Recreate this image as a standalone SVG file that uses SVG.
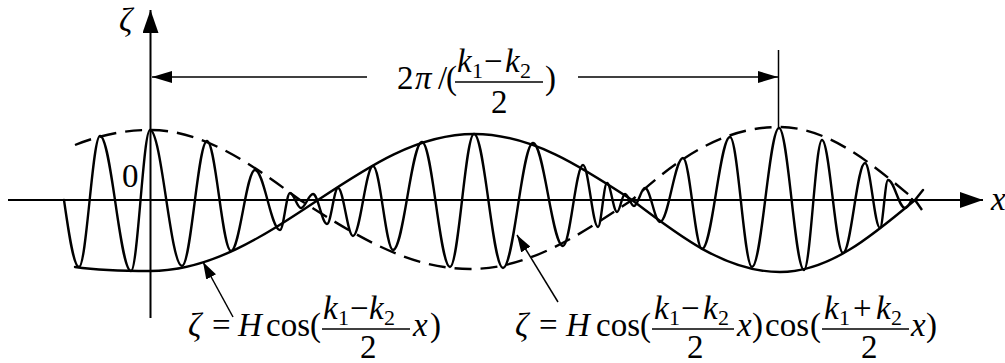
<svg xmlns="http://www.w3.org/2000/svg" width="1005" height="363" viewBox="0 0 1005 363">
<style>
.t{font-family:"Liberation Serif","Times New Roman",serif;font-size:33px;fill:#000}
.i{font-style:italic}
.s{font-size:22px}
.ax{stroke:#000;stroke-width:2;fill:none}
.thin{stroke:#000;stroke-width:1.5;fill:none}
.bar{stroke:#000;stroke-width:1.3}
.curve{stroke:#000;stroke-width:2.4;fill:none;stroke-linejoin:round;stroke-linecap:round}
.dash{stroke-dasharray:17 9;stroke-linecap:butt}
</style>
<defs>
<marker id="headAxis" viewBox="0 0 23 16" refX="23" refY="8" markerWidth="23" markerHeight="16" markerUnits="userSpaceOnUse" orient="auto"><path d="M0,0 L23,8 L0,16 z" fill="#000"/></marker>
<marker id="headDim" viewBox="0 0 20 12" refX="20" refY="6" markerWidth="20" markerHeight="12" markerUnits="userSpaceOnUse" orient="auto"><path d="M0,0 L20,6 L0,12 z" fill="#000"/></marker>
<marker id="headPtr" viewBox="0 0 17 11" refX="17" refY="5.5" markerWidth="17" markerHeight="11" markerUnits="userSpaceOnUse" orient="auto"><path d="M0,0 L17,5.5 L0,11 z" fill="#000"/></marker>
</defs>
<rect width="1005" height="363" fill="#fff"/>

<g id="axes">
<line class="ax" x1="8" y1="200" x2="983" y2="200" marker-end="url(#headAxis)"/>
<line class="ax" x1="150.5" y1="318" x2="150.5" y2="10" stroke-width="1.8" marker-end="url(#headAxis)"/>
<text class="t i" x="119" y="31" font-size="31">ζ</text>
<text class="t" x="122" y="187" font-size="27">0</text>
<text class="t i" x="991" y="210" font-size="29">x</text>
</g>

<g id="envelope-dashed">
<path class="curve dash" d="M75,145 C100,135 125,130 150,130 C204.3,130 251.1,164.1 300,200 C355.4,235.3 408.5,269 470,269 C528.6,269 579.2,235.3 632,200 C676,160 722,127 779,127 C828.2,127 870.7,162.6 915,200 L922,210"/>
</g>

<g id="envelope-solid">
<path class="curve" d="M75,267 C100,270.5 125,271 150,271 C210.8,271 263.2,236.4 318,200 C368.9,166.2 417.5,134 474,134 C531.2,134 580.5,166.2 632,200 C680.2,236.9 726.4,272 780,272 C828.9,272 871,236.9 915,200 L923,190"/>
</g>

<g id="wave">
<path class="curve" stroke-width="2.2" d="M64,200 C68.9,234.3 73.6,267 79,267 C86.6,267 92.4,136 100,136 C111.3,136 119.7,271 131,271 C137.9,271 143.1,130 150,130 C161.6,130 170.4,266 182,266 C191.1,266 197.9,141 207,141 C215.7,141 222.3,251 231,251 C239.7,251 246.3,170 255,170 C264.1,170 270.9,230 280,230 C283.6,230 286.4,193 290,193 C294,193 297,208 301,208 C305.4,208 308.6,194 313,194 C318.1,194 321.9,224 327,224 C331,224 334,188 338,188 C343.5,188 347.5,236 353,236 C360.3,236 365.7,166 373,166 C380.3,166 385.7,250 393,250 C403.6,250 411.4,142 422,142 C432.2,142 439.8,267 450,267 C458.7,267 465.3,134 474,134 C484.6,134 492.4,268 503,268 C513.9,268 522.1,143 533,143 C543.9,143 552.1,246 563,246 C570.3,246 575.7,165 583,165 C588.5,165 592.5,227 598,227 C601.3,227 603.7,183 607,183 C610.6,183 613.4,212 617,212 C619.9,212 622.1,194 625,194 C628.3,194 630.7,206 634,206 C638,206 641,188 645,188 C650.5,188 654.5,222 660,222 C668.4,222 674.6,158 683,158 C689.9,158 695.1,249 702,249 C712.2,249 719.8,137 730,137 C738,137 744,267 752,267 C761.8,267 769.2,128 779,128 C788.1,128 794.9,270 804,270 C810.6,270 815.4,140 822,140 C829.6,140 835.4,253 843,253 C851,253 857,163 865,163 C870.5,163 874.5,228 880,228 C882.9,228 885.1,180 888,180 C894.2,180 898.8,208 905,208 C908,208 910,203 912,199"/>
</g>

<g id="connectors">
<line class="thin" x1="367" y1="77" x2="152" y2="77" marker-end="url(#headDim)"/>
<line class="thin" x1="578" y1="77" x2="778" y2="77" marker-end="url(#headDim)"/>
<line class="thin" x1="778.5" y1="50" x2="778.5" y2="127"/>
<line class="thin" x1="233" y1="317" x2="203" y2="262" marker-end="url(#headPtr)"/>
<line class="thin" x1="558" y1="302" x2="517" y2="235" marker-end="url(#headPtr)"/>
</g>

<g id="label-period">
<text class="t" x="397" y="89">2</text>
<text class="t i" x="415" y="89">π</text>
<text class="t" x="438" y="89">/</text>
<text class="t" x="446" y="89">(</text>
<text class="t i" x="457" y="72">k</text>
<text class="t s" x="472" y="78">1</text>
<text class="t" x="484" y="72">−</text>
<text class="t i" x="505" y="72">k</text>
<text class="t s" x="520" y="78">2</text>
<line class="bar" x1="455" y1="82" x2="543" y2="82"/>
<text class="t" x="491" y="113">2</text>
<text class="t" x="545" y="89">)</text>
</g>

<g id="formula-envelope">
<text class="t i" x="188" y="336">ζ</text>
<text class="t" x="212" y="336">=</text>
<text class="t i" x="238" y="336">H</text>
<text class="t" x="266" y="336">cos</text>
<text class="t" x="310" y="336">(</text>
<text class="t i" x="323" y="319">k</text>
<text class="t s" x="338" y="325">1</text>
<text class="t" x="350" y="319">−</text>
<text class="t i" x="369" y="319">k</text>
<text class="t s" x="384" y="325">2</text>
<line class="bar" x1="322" y1="329" x2="410" y2="329"/>
<text class="t" x="360" y="358">2</text>
<text class="t i" x="413" y="336">x</text>
<text class="t" x="430" y="336">)</text>
</g>

<g id="formula-wave">
<text class="t i" x="515" y="336">ζ</text>
<text class="t" x="539" y="336">=</text>
<text class="t i" x="566" y="336">H</text>
<text class="t" x="596" y="336">cos</text>
<text class="t" x="640" y="336">(</text>
<text class="t i" x="654" y="319">k</text>
<text class="t s" x="669" y="325">1</text>
<text class="t" x="681" y="319">−</text>
<text class="t i" x="703" y="319">k</text>
<text class="t s" x="718" y="325">2</text>
<line class="bar" x1="652" y1="329" x2="734" y2="329"/>
<text class="t" x="687" y="358">2</text>
<text class="t i" x="737" y="336">x</text>
<text class="t" x="752" y="336">)</text>
<text class="t" x="765" y="336">cos</text>
<text class="t" x="810" y="336">(</text>
<text class="t i" x="824" y="319">k</text>
<text class="t s" x="839" y="325">1</text>
<text class="t" x="853" y="319">+</text>
<text class="t i" x="876" y="319">k</text>
<text class="t s" x="891" y="325">2</text>
<line class="bar" x1="822" y1="329" x2="909" y2="329"/>
<text class="t" x="861" y="358">2</text>
<text class="t i" x="911" y="336">x</text>
<text class="t" x="926" y="336">)</text>
</g>
</svg>
